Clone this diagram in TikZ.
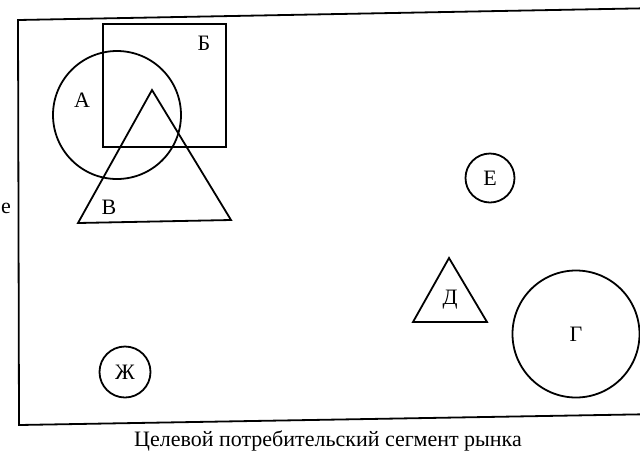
\documentclass[tikz,border=0pt]{standalone}
\usepackage{fontspec}
\setmainfont{Liberation Serif}
\begin{document}
\begin{tikzpicture}[x=1pt,y=-1pt,
  ln/.style={line width=1.8pt},
  ring/.style={draw, circle, line width=1.8pt, inner sep=0pt},
  lbl/.style={font=\fontsize{22}{22}\selectfont},
  captext/.style={font=\fontsize{22}{23}\selectfont}]
\useasboundingbox (0,0) rectangle (640,459);
\clip (0,0) rectangle (640,459);
% frame
\coordinate (f1) at (18,20);
\coordinate (f2) at (660,8);
\coordinate (f3) at (660,414);
\coordinate (f4) at (19,425);
\draw[ln] (f2) -- (f1) -- (f4) -- (f3);
% left-edge fragment
\node[lbl, anchor=west, inner sep=0pt] (frag) at (1,208) {е};
% square B
\node[draw, ln, minimum width=123pt, minimum height=123pt, inner sep=0pt] (sqB) at (164.5,85.5) {};
\node[lbl] (tB) at (204,43) {Б};
% circle A
\node[ring, minimum size=128pt] (cA) at (117,115) {};
\node[lbl] (tA) at (82,100) {А};
% triangle V
\coordinate (v1) at (152,90);
\coordinate (v2) at (78,223);
\coordinate (v3) at (231,220);
\draw[ln, line join=miter] (v1) -- (v2) -- (v3) -- cycle;
\node[lbl] (tV) at (109,207) {В};
% circle E
\node[ring, minimum size=49pt, lbl] (cE) at (490,178) {Е};
% triangle D
\coordinate (d1) at (449,258);
\coordinate (d2) at (413,322);
\coordinate (d3) at (487,322);
\draw[ln, line join=miter] (d1) -- (d2) -- (d3) -- cycle;
\node[lbl] (tD) at (450,300) {Д};
% circle G
\node[ring, minimum size=127pt, lbl] (cG) at (576,334) {Г};
% circle Zh
\node[ring, minimum size=51pt, lbl] (cZ) at (125,372) {Ж};
% caption
\node[captext] (caption) at (328,441) {Целевой потребительский сегмент рынка};
\end{tikzpicture}
\end{document}
